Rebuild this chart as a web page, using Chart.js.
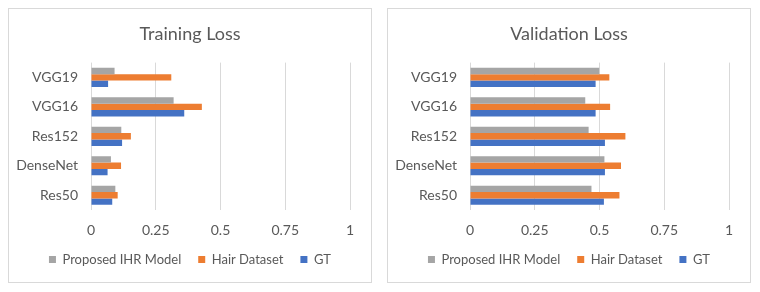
<!DOCTYPE html>
<html>
<head>
<meta charset="utf-8">
<script src="https://cdn.jsdelivr.net/npm/chart.js@4/dist/chart.umd.min.js"></script>
<style>
    body { margin: 0; background: #fff; }
    .panel {
        position: absolute;
        top: 8px;
        width: 362px;
        height: 273px;
        border: 1px solid #D9D9D9;
        background: #fff;
    }
    #panelTrain { left: 8px; }
    #panelVal { left: 387px; }
</style>
</head>
<body>
<div class="panel" id="panelTrain"><canvas id="trainChart" width="362" height="273"></canvas></div>
<div class="panel" id="panelVal"><canvas id="valChart" width="362" height="273"></canvas></div>
<script>
// categories, top to bottom
const models = ['VGG19', 'VGG16', 'Res152', 'DenseNet', 'Res50'];
const seriesNames = ['Proposed IHR Model', 'Hair Dataset', 'GT'];
const xTicks = [0, 0.25, 0.5, 0.75, 1];

// training loss
const trainProposed = [0.091, 0.319, 0.117, 0.077, 0.094];
const trainHair = [0.31, 0.428, 0.154, 0.116, 0.103];
const trainGT = [0.066, 0.36, 0.12, 0.064, 0.082];

// validation loss
const valProposed = [0.499, 0.445, 0.458, 0.519, 0.469];
const valHair = [0.538, 0.541, 0.6, 0.583, 0.577];
const valGT = [0.485, 0.485, 0.521, 0.521, 0.517];

const colors = ['#A5A5A5', '#ED7D31', '#4472C4'];
const textColor = '#595959';
const fontFamily = 'Lato, "Open Sans", sans-serif';

function makeChart(canvasId, title, values) {
    const ctx = document.getElementById(canvasId).getContext('2d');
    return new Chart(ctx, {
        type: 'bar',
        data: {
            labels: models,
            datasets: values.map(function (v, i) {
                return {
                    label: seriesNames[i],
                    data: v,
                    backgroundColor: colors[i],
                    borderWidth: 0,
                    categoryPercentage: 0.65,
                    barPercentage: 1.0,
                };
            }),
        },
        options: {
            indexAxis: 'y',
            responsive: false,
            animation: false,
            layout: { padding: { left: 0, right: 0, top: 0, bottom: 6 } },
            plugins: {
                tooltip: { enabled: false },
                title: {
                    display: true,
                    text: title,
                    color: textColor,
                    font: { family: fontFamily, size: 18, weight: 'normal' },
                    padding: { top: 14, bottom: 18 },
                },
                legend: {
                    position: 'bottom',
                    labels: {
                        color: textColor,
                        font: { family: fontFamily, size: 13 },
                        boxWidth: 7,
                        boxHeight: 7,
                        padding: 17,
                    },
                },
            },
            scales: {
                x: {
                    min: 0,
                    max: 1,
                    afterBuildTicks: function (scale) {
                        scale.ticks = xTicks.map(function (t) { return { value: t }; });
                    },
                    ticks: {
                        color: textColor,
                        font: { family: fontFamily, size: 14 },
                        padding: 12,
                        maxRotation: 0,
                        callback: function (value) { return String(value); },
                    },
                    grid: { color: '#D9D9D9', drawTicks: false },
                    border: { display: false },
                    afterFit: function (scale) { scale.height = 26; },
                },
                y: {
                    ticks: {
                        color: textColor,
                        font: { family: fontFamily, size: 14 },
                        padding: 13,
                    },
                    grid: { display: false, drawTicks: false },
                    border: { display: false },
                    afterFit: function (scale) { scale.width = 82; },
                },
                // empty spacer on the right so title and legend stay centred in the panel
                yRight: {
                    position: 'right',
                    ticks: { display: false },
                    grid: { display: false, drawTicks: false },
                    border: { display: false },
                    afterFit: function (scale) { scale.width = 21; },
                },
            },
        },
    });
}

makeChart('trainChart', 'Training Loss', [trainProposed, trainHair, trainGT]);
makeChart('valChart', 'Validation Loss', [valProposed, valHair, valGT]);
</script>
</body>
</html>
